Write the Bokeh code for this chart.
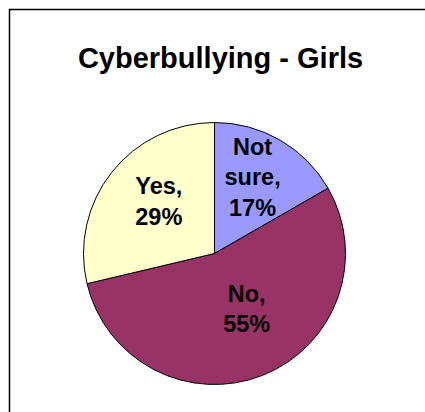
import math
from bokeh.plotting import figure
from bokeh.models import Range1d, Label, ColumnDataSource
from bokeh.core.properties import value
from bokeh.embed import file_html
from bokeh.resources import INLINE

# ---- data ----
categories = ["Not sure", "No", "Yes"]
percents = [16.7, 54.6, 28.7]
colors = ["#9999FF", "#993366", "#FFFFCC"]
title_text = "Cyberbullying - Girls"

# ---- layout constants (pixels) ----
W, H = 417, 404                    # canvas size
BL, BT = 2, 2                      # left / top frame line thickness
FW, FH = W - BL, H - BT            # plotting frame size
CX, CY, R = 204, 243, 131          # pie centre and radius inside the frame
label_radius = [0.65, 0.49, 0.58]  # fraction of radius
label_nudge = [3.5, 8.5, -4.5]     # degrees

total = sum(percents)
starts, ends, lx, ly, texts = [], [], [], [], []
cum = 0.0
for cat, v, rr, nd in zip(categories, percents, label_radius, label_nudge):
    a0 = math.pi / 2 - cum / total * 2 * math.pi
    cum += v
    a1 = math.pi / 2 - cum / total * 2 * math.pi
    starts.append(a0)
    ends.append(a1)
    mid = (a0 + a1) / 2 + math.radians(nd)
    lx.append(rr * math.cos(mid))
    ly.append(rr * math.sin(mid))
    words = cat.split(" ")
    texts.append("\n".join(words[:-1] + [words[-1] + ","]) + "\n" + f"{int(v + 0.5)}%")

src = ColumnDataSource(dict(cat=categories, start=starts, end=ends, color=colors,
                            lx=lx, ly=ly, text=texts))

x0 = -CX / R
x1 = (FW - CX) / R
y1 = CY / R
y0 = -(FH - CY) / R

p = figure(width=W, height=H, x_range=Range1d(x0, x1), y_range=Range1d(y0, y1),
           output_backend="svg", toolbar_location=None,
           min_border_left=BL, min_border_top=BT,
           min_border_right=0, min_border_bottom=0,
           background_fill_color="white", border_fill_color="black")
p.outline_line_color = None
p.xaxis.visible = False
p.yaxis.visible = False
p.xgrid.visible = False
p.ygrid.visible = False
p.styles = {"margin-left": "8px", "margin-top": "8px"}

p.wedge(x=0, y=0, radius=1, start_angle="start", end_angle="end", direction="clock",
        fill_color="color", line_color="black", line_width=1, source=src)

p.text(x="lx", y="ly", text="text", source=src, text_align="center",
       text_baseline="middle", text_font=value("Liberation Sans"),
       text_font_style="bold", text_font_size="23.5px", text_line_height=1.18,
       text_color="black")

p.add_layout(Label(x=(210 - CX) / R, y=(CY - 47) / R, text=title_text,
                   text_align="center", text_baseline="alphabetic",
                   text_font="Liberation Sans", text_font_style="bold",
                   text_font_size="29px", text_color="black"))

open("out.html", "w").write(file_html(p, INLINE))
